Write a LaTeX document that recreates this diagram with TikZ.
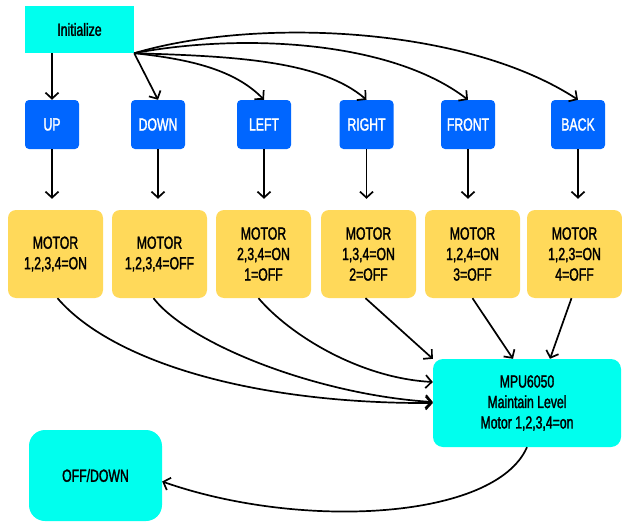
\documentclass[tikz,border=0pt]{standalone}
\usepackage{fontspec}
\setmainfont{Liberation Sans}[FakeStretch=0.7,FakeBold=1.6]
\usetikzlibrary{arrows.meta}
\definecolor{aqua}{RGB}{0,255,238}
\definecolor{keyblue}{RGB}{0,102,255}
\definecolor{motoryellow}{RGB}{255,217,90}

\begin{document}
\begin{tikzpicture}[x=1pt,y=-1pt,
    font=\fontsize{17.5}{20.5}\selectfont,
    arr/.style={-{Straight Barb[length=6pt,width=13pt]},line width=1.7pt},
    key/.style={fill=keyblue,text=white,rounded corners=4pt,minimum width=54pt,minimum height=49pt,inner sep=0pt},
    motor/.style={fill=motoryellow,rounded corners=8pt,minimum width=95pt,minimum height=88pt,align=center,inner sep=0pt},
    state/.style={fill=aqua,align=center,inner sep=0pt}]
    \useasboundingbox (0,0) rectangle (622,522);
    \node[state,minimum width=109pt,minimum height=47pt] (init) at (79.5,29.5) {Initialize};
    \foreach \n/\x/\t in {kup/52/UP, kdown/158/DOWN, kleft/264/LEFT, kright/366.5/RIGHT, kfront/468/FRONT, kback/578/BACK}
    \node[key] (\n) at (\x,124.5) {\t};
    \foreach \n/\x/\t in {m1/55.5/{MOTOR\\1,2,3,4=ON}, m2/159.5/{MOTOR\\1,2,3,4=OFF},
        m3/263.5/{MOTOR\\2,3,4=ON\\1=OFF}, m4/368.5/{MOTOR\\1,3,4=ON\\2=OFF},
        m5/472.5/{MOTOR\\1,2,4=ON\\3=OFF}, m6/574.5/{MOTOR\\1,2,3=ON\\4=OFF}}
    \node[motor] (\n) at (\x,254) {\t};
    \node[state,rounded corners=10pt,minimum width=188pt,minimum height=88pt] (mpu) at (527,403) {MPU6050\\Maintain Level\\Motor 1,2,3,4=on};
    \node[state,rounded corners=16pt,minimum width=133pt,minimum height=91pt] (off) at (95.5,475.5) {OFF/DOWN};
    \draw[arr] (kup.north |- init.south) -- (kup.north);
    \draw[arr] (init.south east) -- (kdown.north);
    \draw[arr] (init.south east) .. controls +(56,6) and +(-29,-30) .. (kleft.north);
    \draw[arr] (init.south east) .. controls +(96,3) and +(-46.5,-40) .. (kright.north);
    \draw[arr] (init.south east) .. controls +(106,-20) and +(-78,-60) .. (kfront.north);
    \draw[arr] (init.south east) .. controls +(121,-36) and +(-113,-74) .. (kback.north);
    \foreach \a/\b in {kup/m1, kdown/m2, kleft/m3, kright/m4, kfront/m5, kback/m6}
    \draw[arr,shorten >=11pt] (\a.south) -- (\a.south |- \b.north);
    \draw[arr] ([xshift=2pt]m1.south) .. controls +(53,62) and +(-183,1) .. (mpu.west);
    \draw[arr] ([xshift=-6pt]m2.south) .. controls +(36.5,47) and +(-113,-7) .. ([yshift=1pt]mpu.west);
    \draw[arr] ([xshift=-5pt]m3.south) .. controls +(31.5,37) and +(-73,-4) .. ([yshift=21pt]mpu.west);
    \draw[arr] ([xshift=-3pt]m4.south) -- (mpu.north west);
    \draw[arr] (m5.south) -- ([xshift=-14pt]mpu.north);
    \draw[arr] ([xshift=-3pt]m6.south) -- ([xshift=23pt]mpu.north);
    \draw[arr] (mpu.south) .. controls +(-32,73) and +(138,48.5) .. ([yshift=-6pt]off.east);
\end{tikzpicture}
\end{document}
